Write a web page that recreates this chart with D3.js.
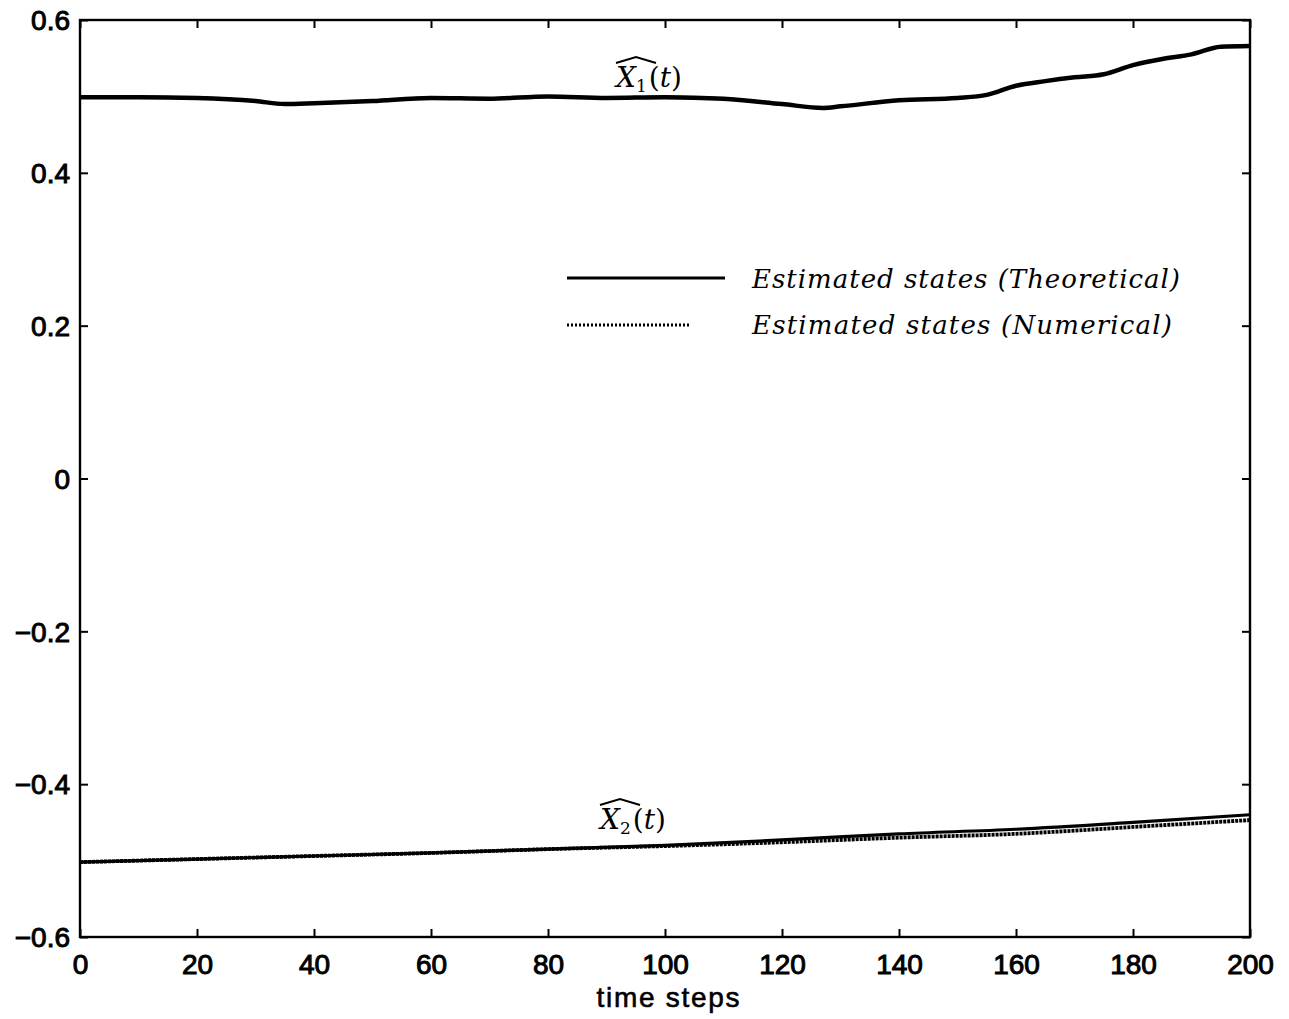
<!DOCTYPE html>
<html><head><meta charset="utf-8">
<script src="https://cdn.jsdelivr.net/npm/d3@7"></script>
<style>body{margin:0;background:#fff}</style>
</head><body>
<svg id="c" width="1289" height="1019"></svg>
<script>
const xTicks = [0,20,40,60,80,100,120,140,160,180,200];
const yTicks = [-0.6,-0.4,-0.2,0,0.2,0.4,0.6];
const yTickLabels = ["\u22120.6","\u22120.4","\u22120.2","0","0.2","0.4","0.6"];

const x1Steps = [0,10,20,30,35,40,50,60,70,80,90,100,110,120,127,130,140,150,155,160,165,170,175,180,185,190,195,200];
const x1Theoretical = [0.499,0.499,0.498,0.494,0.490,0.491,0.494,0.498,0.497,0.500,0.498,0.499,0.497,0.490,0.485,0.487,0.495,0.498,0.502,0.514,0.520,0.525,0.529,0.541,0.549,0.555,0.565,0.566];
const x1Numerical   = [0.499,0.499,0.498,0.494,0.490,0.491,0.494,0.498,0.497,0.500,0.498,0.499,0.497,0.490,0.485,0.487,0.495,0.498,0.502,0.514,0.520,0.525,0.529,0.541,0.549,0.555,0.565,0.566];

const x2Steps = [0,20,40,60,80,100,120,140,160,180,200];
const x2Theoretical = [-0.502,-0.498,-0.494,-0.490,-0.485,-0.480,-0.473,-0.465,-0.459,-0.450,-0.440];
const x2Numerical   = [-0.502,-0.498,-0.494,-0.490,-0.485,-0.481,-0.476,-0.470,-0.465,-0.456,-0.447];

const legendLabels = ["Estimated states (Theoretical)","Estimated states (Numerical)"];

const svg = d3.select("#c");
const L=80, T=20, R=1250, B=937;
const x = d3.scaleLinear().domain([0,200]).range([L,R]);
const y = d3.scaleLinear().domain([-0.6,0.6]).range([B,T]);

const tickFont = "'Liberation Sans', Arial, sans-serif";

// frame
svg.append("rect").attr("x",L).attr("y",T).attr("width",R-L).attr("height",B-T)
  .attr("fill","none").attr("stroke","#000").attr("stroke-width",2.4);

// axes with inward ticks
const gx = svg.append("g").attr("transform",`translate(0,${B})`)
  .call(d3.axisBottom(x).tickValues(xTicks).tickSizeInner(-8).tickSizeOuter(0).tickPadding(20));
const gxt = svg.append("g").attr("transform",`translate(0,${T})`)
  .call(d3.axisTop(x).tickValues(xTicks).tickSizeInner(-8).tickSizeOuter(0).tickFormat(""));
const gy = svg.append("g").attr("transform",`translate(${L},0)`)
  .call(d3.axisLeft(y).tickValues(yTicks).tickSizeInner(-8).tickSizeOuter(0).tickPadding(10)
    .tickFormat((d,i)=>yTickLabels[i]));
const gyr = svg.append("g").attr("transform",`translate(${R},0)`)
  .call(d3.axisRight(y).tickValues(yTicks).tickSizeInner(-8).tickSizeOuter(0).tickFormat(""));
[gx,gxt,gy,gyr].forEach(g=>{
  g.select(".domain").remove();
  g.selectAll(".tick line").attr("stroke","#000").attr("stroke-width",2);
  g.selectAll("text").attr("font-family",tickFont).attr("font-size",28)
    .attr("fill","#000").attr("stroke","#000").attr("stroke-width",1);
});
gy.selectAll("text").attr("dy","0.35em").attr("x",-10);
gx.selectAll(".tick text").attr("dy","0.71em").attr("y",17);

svg.append("text").attr("x",668).attr("y",1007).attr("text-anchor","middle")
  .attr("font-family",tickFont).attr("font-size",28).attr("fill","#000")
  .attr("stroke","#000").attr("stroke-width",0.6).attr("textLength",143).text("time steps");

// lines
const line = d3.line().x(d=>x(d[0])).y(d=>y(d[1])).curve(d3.curveMonotoneX);
const zip = (a,b)=>a.map((t,i)=>[t,b[i]]);
const plot = svg.append("g");
plot.append("path").datum(zip(x1Steps,x1Theoretical)).attr("d",line)
  .attr("fill","none").attr("stroke","#000").attr("stroke-width",4.5);
plot.append("path").datum(zip(x1Steps,x1Numerical)).attr("d",line)
  .attr("fill","none").attr("stroke","#000").attr("stroke-width",3).attr("stroke-dasharray","2,1");
plot.append("path").datum(zip(x2Steps,x2Theoretical)).attr("d",line)
  .attr("fill","none").attr("stroke","#000").attr("stroke-width",3.2);
plot.append("path").datum(zip(x2Steps,x2Numerical)).attr("d",line)
  .attr("fill","none").attr("stroke","#000").attr("stroke-width",3.8).attr("stroke-dasharray","3,1");

// legend
const serif = "'DejaVu Serif', 'Liberation Serif', serif";
svg.append("line").attr("x1",567).attr("x2",725).attr("y1",278).attr("y2",278)
  .attr("stroke","#000").attr("stroke-width",3);
svg.append("line").attr("x1",567).attr("x2",690).attr("y1",325).attr("y2",325)
  .attr("stroke","#000").attr("stroke-width",3).attr("stroke-dasharray","2,2");
svg.append("text").attr("x",752).attr("y",288).attr("font-family",serif).attr("font-style","italic")
  .attr("font-size",26).attr("textLength",428).attr("fill","#000").text(legendLabels[0]);
svg.append("text").attr("x",752).attr("y",334).attr("font-family",serif).attr("font-style","italic")
  .attr("font-size",26).attr("textLength",420).attr("fill","#000").text(legendLabels[1]);

// series annotations
function hatLabel(x0, base, sub){
  const t = svg.append("text").attr("x",x0).attr("y",base).attr("font-family",serif)
    .attr("font-size",28).attr("fill","#000");
  t.append("tspan").attr("font-style","italic").text("X");
  t.append("tspan").attr("font-size",17).attr("dy",5).text(sub);
  t.append("tspan").attr("dy",-5).attr("dx",2).text("(");
  t.append("tspan").attr("font-style","italic").text("t");
  t.append("tspan").text(")");
  svg.append("path")
    .attr("d",`M${x0},${base-24} L${x0+20},${base-30} L${x0+40},${base-24}`)
    .attr("fill","none").attr("stroke","#000").attr("stroke-width",2);
}
hatLabel(616, 87, "1");
hatLabel(600, 829, "2");
</script>
</body></html>
